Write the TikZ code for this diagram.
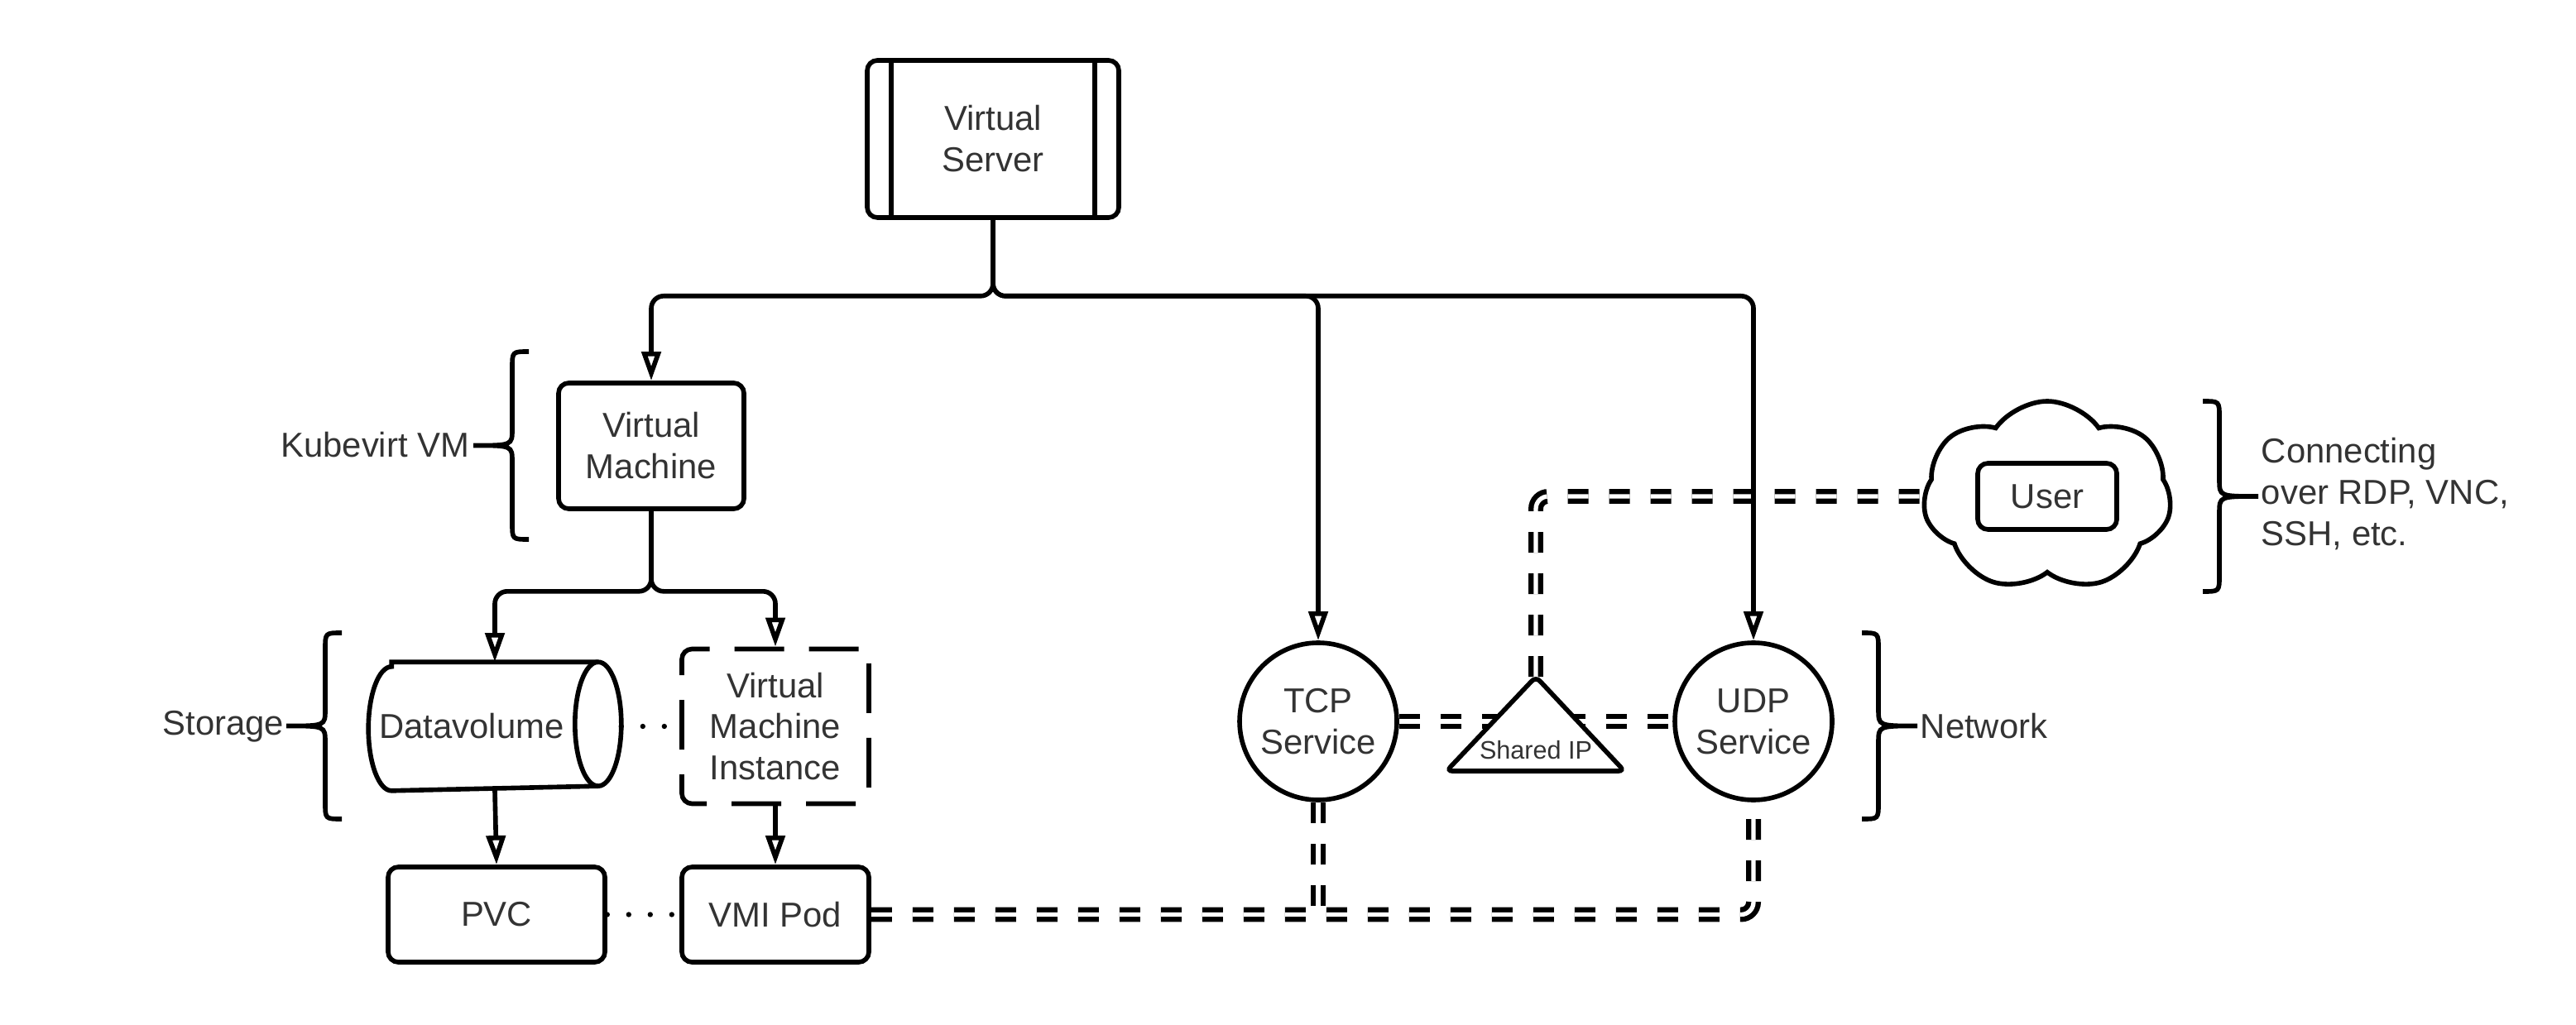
\documentclass[tikz,border=0pt]{standalone}
\usepackage{fontspec}
\setmainfont{Liberation Sans}
\usepackage{xcolor}
\usepackage{tikz}
\usetikzlibrary{arrows.meta, positioning, calc, shapes.geometric, shapes.symbols}
\definecolor{textgray}{RGB}{51, 51, 51}

\begin{document}
\begin{tikzpicture}[
    line width=1.6pt,
    font=\fontsize{11.9}{14.2}\selectfont,
    box/.style={draw, fill=white, rounded corners=3.5pt, align=center, text=textgray, inner sep=0pt},
    arr/.style={-{Triangle[open, length=10pt, width=6.5pt]}},
    dbl/.style={double, double distance=1.5pt, line width=1.8pt, dash pattern=on 0.25cm off 0.25cm, rounded corners=0.15cm},
    dots/.style={line cap=round, line width=1.8pt, dash pattern=on 0pt off 0.26cm},
    lbl/.style={text=textgray, inner sep=0pt}
]
    \useasboundingbox (0, 0) rectangle (31.13, 12.38);

    % 节点
    \node[box, minimum width=3.04cm, minimum height=1.90cm] (vs) at (12.00, 10.70) {Virtual\\Server};
    \draw ([xshift=0.32cm]vs.north west) -- ([xshift=0.32cm]vs.south west);
    \draw ([xshift=-0.32cm]vs.north east) -- ([xshift=-0.32cm]vs.south east);

    \node[box, minimum width=2.24cm, minimum height=1.52cm] (vm) at (7.87, 6.99) {Virtual\\Machine};

    % 圆柱
    \node[minimum width=3.0cm, minimum height=1.5cm, inner sep=0pt] (dv) at (5.98, 3.60) {};
    \draw[fill=white] ([xshift=0.28cm]dv.north west) -- ([xshift=-0.28cm]dv.north east)
        arc[start angle=90, end angle=-90, x radius=0.28cm, y radius=0.75cm]
        -- ([xshift=0.28cm]dv.south west)
        arc[start angle=270, end angle=90, x radius=0.28cm, y radius=0.75cm] -- cycle;
    \draw ([xshift=-0.28cm]dv.north east) arc[start angle=90, end angle=270, x radius=0.28cm, y radius=0.75cm];
    \node[lbl] (dvTxt) at ([xshift=-0.28cm]dv.center) {Datavolume};

    \node[box, dash pattern=on 0.6cm off 0.3cm, minimum width=2.26cm, minimum height=1.87cm] (vmi) at (9.37, 3.60) {Virtual\\Machine\\Instance};
    \node[box, minimum width=2.62cm, minimum height=1.15cm] (pvc) at (6.00, 1.325) {PVC};
    \node[box, minimum width=2.26cm, minimum height=1.15cm] (pod) at (9.37, 1.325) {VMI Pod};

    \node[box, circle, minimum size=1.90cm] (tcp) at (15.93, 3.66) {TCP\\Service};
    \node[box, circle, minimum size=1.90cm] (udp) at (21.19, 3.66) {UDP\\Service};

    \node[draw, fill=white, cloud, cloud puffs=7, cloud puff arc=110, cloud ignores aspect,
          minimum width=3.0cm, minimum height=2.3cm] (cloud) at (24.74, 6.38) {};
    \node[box, minimum width=1.68cm, minimum height=0.80cm] (user) at (24.74, 6.38) {User};

    % 网络连线
    \coordinate (sipTop) at (18.56, 4.20);
    \draw[dbl] (tcp.east) -- (udp.west);
    \draw[dbl] (sipTop) |- (cloud.west);
    \draw[dbl] (pod.east) -| (udp.south);
    \draw[dbl] (tcp.south) -- (tcp.south |- pod.east);

    \filldraw[fill=white, rounded corners=2pt] (sipTop) -- (19.63, 3.06) -- (17.48, 3.06) -- cycle;
    \node[lbl, font=\fontsize{8.7}{10}\selectfont] (sip) at (18.56, 3.31) {Shared IP};

    % 层级箭头
    \draw[arr, rounded corners=0.15cm] (vs.south) -- ++(0, -0.92) -| (vm.north);
    \draw[arr, rounded corners=0.15cm] (vs.south) -- ++(0, -0.92) -| (tcp.north);
    \draw[arr, rounded corners=0.15cm] (vs.south) -- ++(0, -0.92) -| (udp.north);
    \draw[arr, rounded corners=0.15cm] (vm.south) -- ++(0, -0.97) -| (dv.north);
    \draw[arr, rounded corners=0.15cm] (vm.south) -- ++(0, -0.97) -| (vmi.north);
    \draw[arr] (dv.south) -- (pvc.north);
    \draw[arr] (vmi.south) -- (pod.north);

    \draw[dots] (dv.east) -- (vmi.west);
    \draw[dots] (pvc.east) -- (pod.west);

    % 大括号
    \foreach \bx/\bt/\bb/\bd in {6.19/8.13/5.86/-1, 3.93/4.73/2.48/-1, 22.70/4.73/2.48/1, 26.82/7.53/5.23/1} {
        \pgfmathsetmacro{\bm}{(\bt+\bb)/2}
        \pgfmathsetmacro{\bc}{\bx-(\bd)*0.2}
        \pgfmathsetmacro{\btip}{\bx+(\bd)*0.47}
        \draw (\bc, \bt) .. controls (\bx, \bt) .. (\bx, \bt-0.2) -- (\bx, \bm+0.2)
            .. controls (\bx, \bm) .. (\btip, \bm) .. controls (\bx, \bm) .. (\bx, \bm-0.2)
            -- (\bx, \bb+0.2) .. controls (\bx, \bb) .. (\bc, \bb);
    }

    % 标注
    \node[lbl, anchor=east] (kvLbl) at (5.70, 7.00) {Kubevirt VM};
    \node[lbl, anchor=east] (storLbl) at (3.46, 3.60) {Storage};
    \node[lbl, anchor=west] (netLbl) at (23.18, 3.60) {Network};
    \node[lbl, anchor=west, align=left] (connLbl) at (27.30, 6.41) {Connecting\\over RDP, VNC,\\SSH, etc.};
\end{tikzpicture}
\end{document}
